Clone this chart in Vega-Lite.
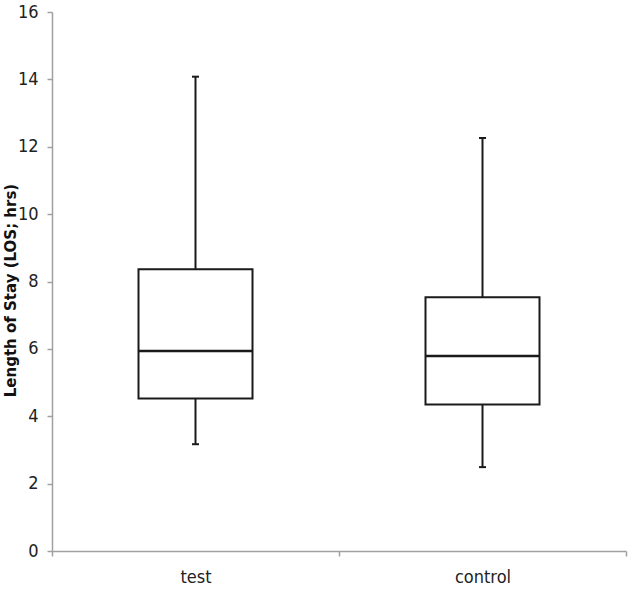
{
  "$schema": "https://vega.github.io/schema/vega-lite/v6.json",
  "width": 574,
  "height": 539,
  "padding": {"left": 52, "top": 12, "right": 4, "bottom": 40},
  "autosize": {"type": "none"},
  "background": "white",
  "config": {"view": {"stroke": null}},
  "data": {
    "values": [
      {"group": "test", "min": 3.17, "q1": 4.53, "median": 5.94, "q3": 8.36, "max": 14.08},
      {"group": "control", "min": 2.49, "q1": 4.35, "median": 5.79, "q3": 7.53, "max": 12.26}
    ]
  },
  "encoding": {
    "x": {
      "field": "group",
      "type": "nominal",
      "sort": ["test", "control"],
      "scale": {"paddingInner": 0, "paddingOuter": 0},
      "axis": {
        "title": null,
        "labelAngle": 0,
        "tickBand": "extent",
        "domainColor": "#a0a0a0",
        "domainWidth": 1.5,
        "tickColor": "#a0a0a0",
        "tickWidth": 1.5,
        "tickSize": 5,
        "labelFont": "Liberation Sans Narrow, DejaVu Sans Condensed, sans-serif",
        "labelFontSize": 18,
        "labelColor": "#222222",
        "labelPadding": 12
      }
    }
  },
  "layer": [
    {
      "mark": {"type": "rule", "color": "#1a1a1a", "strokeWidth": 2},
      "encoding": {
        "y": {
          "field": "min",
          "type": "quantitative",
          "scale": {"domain": [0, 16], "nice": false},
          "axis": {
            "values": [0, 2, 4, 6, 8, 10, 12, 14, 16],
            "grid": false,
            "title": "Length of Stay (LOS; hrs)",
            "titleFont": "DejaVu Sans",
            "titleFontWeight": "bold",
            "titleFontSize": 15,
            "titleColor": "#111111",
            "titleX": -34,
            "titleY": 278,
            "domainColor": "#a0a0a0",
            "domainWidth": 1.5,
            "tickColor": "#a0a0a0",
            "tickWidth": 1.5,
            "tickSize": 5,
            "labelFont": "Liberation Sans Narrow, DejaVu Sans Condensed, sans-serif",
            "labelFontSize": 18,
            "labelColor": "#222222",
            "labelPadding": 9
          }
        },
        "y2": {"field": "max"}
      }
    },
    {
      "mark": {"type": "bar", "fill": "white", "stroke": "#1a1a1a", "strokeWidth": 2, "size": 114},
      "encoding": {
        "y": {"field": "q1", "type": "quantitative"},
        "y2": {"field": "q3"}
      }
    },
    {
      "mark": {"type": "tick", "color": "#1a1a1a", "opacity": 1, "thickness": 2.5, "size": 114},
      "encoding": {
        "y": {"field": "median", "type": "quantitative"}
      }
    },
    {
      "mark": {"type": "tick", "color": "#1a1a1a", "opacity": 1, "thickness": 2, "size": 7},
      "encoding": {
        "y": {"field": "min", "type": "quantitative"}
      }
    },
    {
      "mark": {"type": "tick", "color": "#1a1a1a", "opacity": 1, "thickness": 2, "size": 7},
      "encoding": {
        "y": {"field": "max", "type": "quantitative"}
      }
    }
  ]
}
